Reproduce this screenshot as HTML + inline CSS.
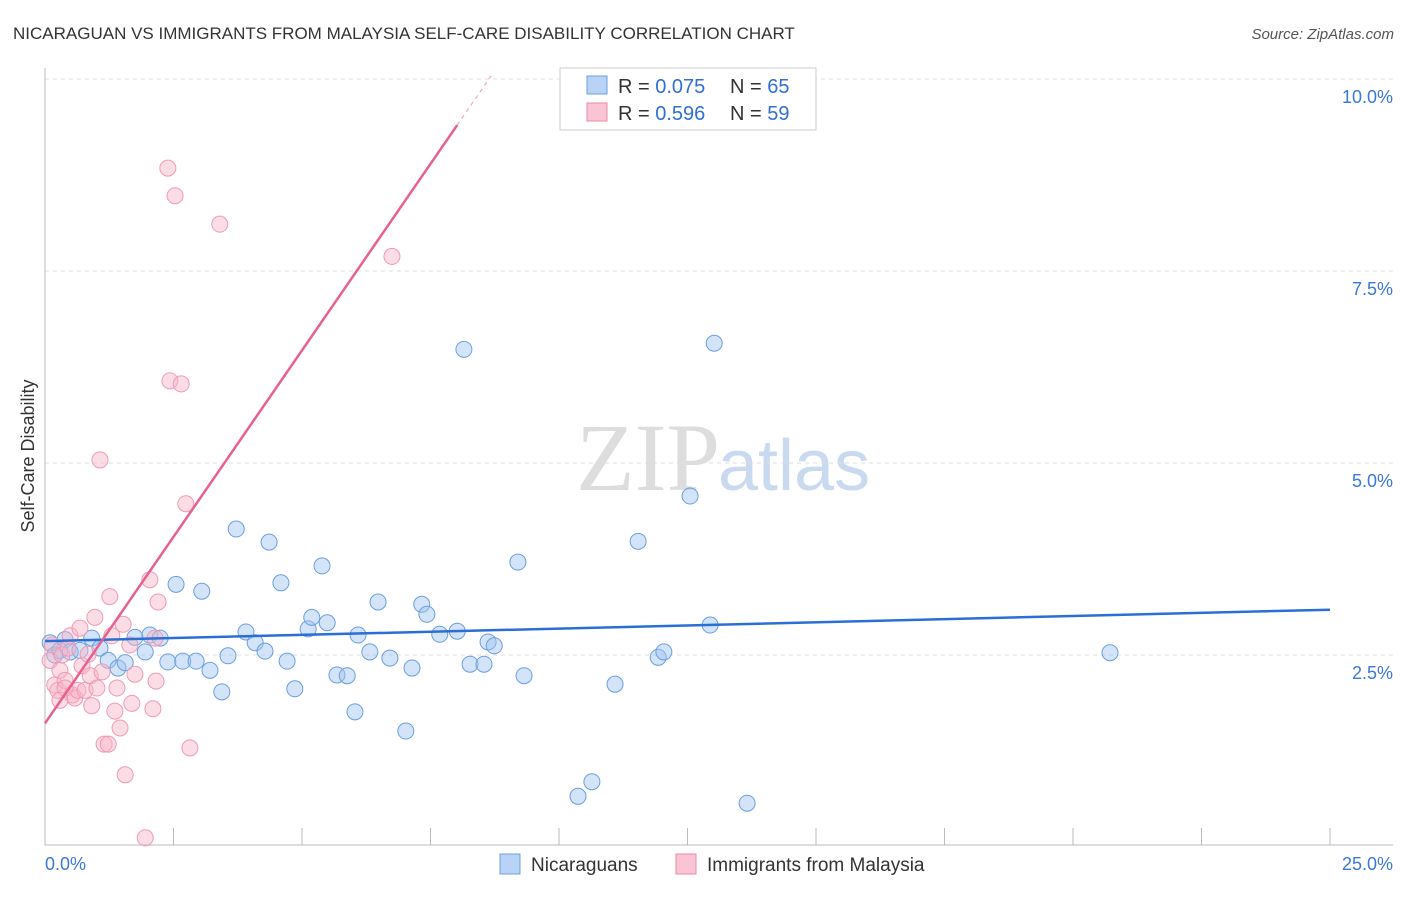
<!DOCTYPE html>
<html><head><meta charset="utf-8"><style>
body{margin:0;background:#fff;font-family:"Liberation Sans",sans-serif;}
</style></head><body>
<svg width="1406" height="892" xmlns="http://www.w3.org/2000/svg" id="chart">
<text x="13" y="39" font-size="17" fill="#333">NICARAGUAN VS IMMIGRANTS FROM MALAYSIA SELF-CARE DISABILITY CORRELATION CHART</text>
<text x="1394" y="39" font-size="15" fill="#555" font-style="italic" text-anchor="end">Source: ZipAtlas.com</text>
<text x="720" y="490" font-size="96" fill="#ddd" text-anchor="end" font-family="Liberation Serif">ZIP</text>
<text x="718" y="490" font-size="72" fill="#c9daf0">atlas</text>
<text transform="translate(34,456) rotate(-90)" font-size="18" fill="#333" text-anchor="middle">Self-Care Disability</text>
<g id="grid"></g><g id="marks"></g>
<g>
<rect x="560" y="68" width="256" height="62" fill="#fff" stroke="#ccc"/>
<rect x="587" y="76" width="20" height="18" fill="#b8d3f5" stroke="#6a9fe0"/>
<rect x="587" y="103" width="20" height="18" fill="#f9c4d4" stroke="#ea8aaa"/>
<text x="618" y="93" font-size="20" fill="#333">R = <tspan fill="#2f6fd6">0.075</tspan></text>
<text x="730" y="93" font-size="20" fill="#333">N = <tspan fill="#2f6fd6">65</tspan></text>
<text x="618" y="120" font-size="20" fill="#333">R = <tspan fill="#2f6fd6">0.596</tspan></text>
<text x="730" y="120" font-size="20" fill="#333">N = <tspan fill="#2f6fd6">59</tspan></text>
</g>
<g>
<rect x="500" y="854" width="20" height="20" fill="#b8d3f5" stroke="#6a9fe0"/>
<text x="531" y="871" font-size="19" fill="#333">Nicaraguans</text>
<rect x="676" y="854" width="20" height="20" fill="#f9c4d4" stroke="#ea8aaa"/>
<text x="707" y="871" font-size="19" fill="#333">Immigrants from Malaysia</text>
</g>
</svg>
<script>
const xTicks=[0,2.5,5,7.5,10,12.5,15,17.5,20,22.5,25];
const yTicks=[2.5,5,7.5,10];
const yTickLabels=["2.5%","5.0%","7.5%","10.0%"];
const blueX=[0.10,0.19,0.29,0.39,0.49,0.68,0.91,1.07,1.23,1.42,1.56,1.75,1.95,2.04,2.24,2.39,2.55,2.68,2.94,3.05,3.21,3.44,3.56,3.72,3.91,4.09,4.28,4.36,4.59,4.71,4.86,5.12,5.19,5.39,5.49,5.68,5.88,6.03,6.09,6.32,6.48,6.71,7.02,7.14,7.33,7.43,7.68,8.02,8.15,8.27,8.54,8.62,8.74,9.20,9.32,10.37,10.64,11.09,11.54,11.93,12.04,12.55,12.94,13.02,13.66,20.72];
const blueY=[2.66,2.50,2.56,2.70,2.54,2.56,2.72,2.59,2.43,2.33,2.40,2.73,2.54,2.76,2.72,2.41,3.42,2.42,2.42,3.33,2.30,2.02,2.49,4.14,2.80,2.66,2.55,3.97,3.44,2.42,2.06,2.84,2.99,3.66,2.92,2.24,2.23,1.76,2.76,2.54,3.19,2.46,1.51,2.33,3.16,3.03,2.77,2.81,6.48,2.38,2.38,2.67,2.62,3.71,2.23,0.66,0.85,2.12,3.98,2.47,2.54,4.57,2.89,6.56,0.57,2.53];
const pinkX=[0.10,0.14,0.19,0.25,0.29,0.33,0.39,0.45,0.49,0.53,0.58,0.64,0.68,0.72,0.78,0.84,0.88,0.91,0.97,1.01,1.07,1.11,1.15,1.23,1.26,1.30,1.36,1.40,1.46,1.52,1.56,1.65,1.69,1.75,1.95,2.04,2.10,2.16,2.20,2.14,2.39,2.43,2.53,2.65,2.74,2.82,3.40,6.75,0.29,0.39];
const pinkY=[2.43,2.63,2.11,2.04,2.30,2.50,2.17,2.59,2.75,1.98,1.94,2.04,2.85,2.36,2.04,2.51,2.23,1.84,2.99,2.07,5.04,2.28,1.34,1.34,3.26,2.75,1.77,2.07,1.55,2.90,0.94,2.63,1.87,2.25,0.12,3.48,1.80,2.16,3.19,2.72,8.84,6.07,8.48,6.03,4.47,1.29,8.11,7.69,1.91,2.07];
const blueTrend=[2.68,3.09];
const pinkTrend=[1.61,9.40,8.02];
const X=v=>45+v/25*1285, Y=v=>847-v*76.8;
const NS="http://www.w3.org/2000/svg";
function mk(t,a,p){const e=document.createElementNS(NS,t);for(const k in a)e.setAttribute(k,a[k]);p.appendChild(e);return e;}
const g=document.getElementById('grid'), m=document.getElementById('marks');
yTicks.forEach((t,i)=>{
 const l=mk('line',{x1:45,x2:1393,y1:Y(t),y2:Y(t),stroke:'#ddd','stroke-dasharray':'4,4'},g);
 
 
 const tx=mk('text',{x:1393,y:Y(t)+24,'font-size':18,fill:'#3b78d8','text-anchor':'end'},g);
 tx.textContent=yTickLabels[i];
 
 
});
const ax=mk('line',{x1:45,x2:45,y1:68,y2:845,stroke:'#bbb'},g);


const bx=mk('line',{x1:45,x2:1393,y1:845,y2:845,stroke:'#bbb'},g);


xTicks.forEach(t=>{
 const l=mk('line',{x1:X(t),x2:X(t),y1:828,y2:845,stroke:'#bbb'},g);
 
 
});
const xl0=mk('text',{x:45,y:870,'font-size':18,fill:'#3b78d8'},g);xl0.textContent=xTicks[0].toFixed(1)+'%';


const xl1=mk('text',{x:1393,y:870,'font-size':18,fill:'#3b78d8','text-anchor':'end'},g);xl1.textContent=xTicks[xTicks.length-1].toFixed(1)+'%';


blueX.forEach((x,i)=>{
 const c=mk('circle',{cx:X(x),cy:Y(blueY[i]),r:8,fill:'rgba(160,196,240,0.45)',stroke:'#6a9fe0','stroke-width':1},m);
 
 
});
pinkX.forEach((x,i)=>{
 const c=mk('circle',{cx:X(x),cy:Y(pinkY[i]),r:8,fill:'rgba(248,180,200,0.45)',stroke:'#ee9ab6','stroke-width':1},m);
 
 
});
const bt=mk('line',{x1:X(0),y1:Y(blueTrend[0]),x2:X(25),y2:Y(blueTrend[1]),stroke:'#2a6fd6','stroke-width':2.5},m);


const sl=(pinkTrend[1]-pinkTrend[0])/pinkTrend[2];
const pt=mk('line',{x1:X(0),y1:Y(pinkTrend[0]),x2:X(pinkTrend[2]),y2:Y(pinkTrend[1]),stroke:'#e8608e','stroke-width':2.5},m);


const xe=(10.05-pinkTrend[0])/sl;
const pd=mk('line',{x1:X(pinkTrend[2]),y1:Y(pinkTrend[1]),x2:X(xe),y2:Y(10.05),stroke:'#f0a8c0','stroke-width':1.2,'stroke-dasharray':'4,4'},m);


</script>
</body></html>
